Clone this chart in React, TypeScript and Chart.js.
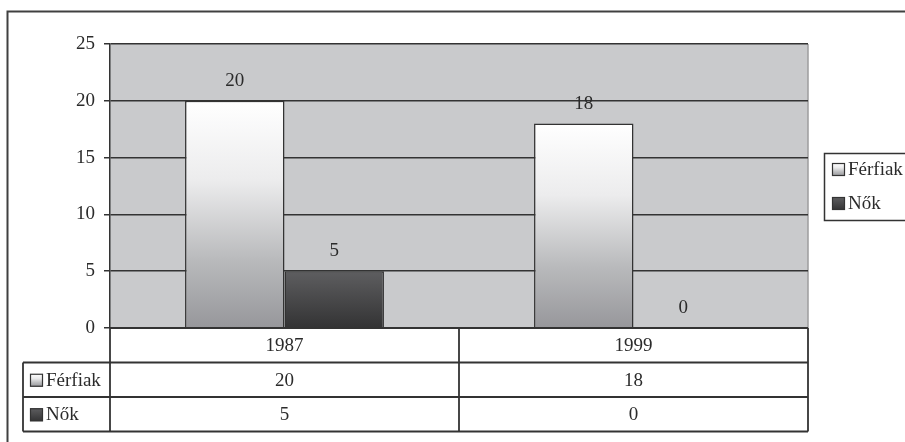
import React, { useEffect, useRef } from "react";
import { Chart, registerables } from "chart.js";

Chart.register(...registerables);

// ---- data ----
const categories = ["1987", "1999"];
const seriesNames = ["Férfiak", "Nők"];
const ferfiak = [20, 18];
const nok = [5, 0];
const yTicks = [0, 5, 10, 15, 20, 25];

// ---- styles ----
const FONT = '"Liberation Serif", "Times New Roman", serif';
const FONT_SIZE = 19;
const TEXT = "#2b2b2b";
const LINE = "#333333";
const PLOT_BG = "#c9cacc";
const FERFI_STOPS: [number, string][] = [
  [0, "#ffffff"],
  [0.35, "#ececed"],
  [0.7, "#b9babc"],
  [1, "#97979b"],
];
const NOK_STOPS: [number, string][] = [
  [0, "#5e5e60"],
  [1, "#333334"],
];
const seriesStops = [FERFI_STOPS, NOK_STOPS];

function makeGradient(ctx: CanvasRenderingContext2D, top: number, bottom: number, stops: [number, string][]) {
  const g = ctx.createLinearGradient(0, top, 0, bottom);
  stops.forEach(([o, c]) => g.addColorStop(o, c));
  return g;
}

function barFill(stops: [number, string][]) {
  return (c: any) => {
    const chart = c.chart;
    const y = chart.scales && chart.scales.y;
    if (!y || !chart.chartArea || c.type !== "data") return stops[stops.length - 1][1];
    const v = c.parsed && typeof c.parsed.y === "number" ? c.parsed.y : c.raw;
    const top = y.getPixelForValue(v);
    const base = y.getPixelForValue(0);
    if (!(base - top > 1)) return stops[stops.length - 1][1];
    return makeGradient(chart.ctx, top, base, stops);
  };
}

function drawSwatch(ctx: CanvasRenderingContext2D, x: number, y: number, w: number, h: number, stops: [number, string][]) {
  ctx.save();
  ctx.fillStyle = makeGradient(ctx, y, y + h, stops);
  ctx.fillRect(x, y, w, h);
  ctx.strokeStyle = LINE;
  ctx.lineWidth = 1.2;
  ctx.strokeRect(x + 0.5, y + 0.5, w - 1, h - 1);
  ctx.restore();
}

const decorPlugin = {
  id: "decor",
  beforeDraw(chart: any) {
    const { ctx, chartArea } = chart;
    ctx.save();
    ctx.fillStyle = "#ffffff";
    ctx.fillRect(0, 0, chart.width, chart.height);
    // outer frame (open on right/bottom, cropped)
    ctx.strokeStyle = "#404040";
    ctx.lineWidth = 2;
    ctx.strokeRect(7.5, 11.5, 1200, 1200);
    // plot background
    ctx.fillStyle = PLOT_BG;
    ctx.fillRect(chartArea.left, chartArea.top, chartArea.right - chartArea.left, chartArea.bottom - chartArea.top);
    ctx.strokeStyle = "#9c9c9e";
    ctx.lineWidth = 1.5;
    ctx.beginPath();
    ctx.moveTo(chartArea.right, chartArea.top);
    ctx.lineTo(chartArea.right, chartArea.bottom);
    ctx.stroke();
    ctx.restore();
  },
  afterDatasetsDraw(chart: any) {
    const { ctx, chartArea } = chart;
    const xScale = chart.scales.x;
    ctx.save();
    ctx.font = `${FONT_SIZE}px ${FONT}`;
    ctx.fillStyle = TEXT;
    ctx.textAlign = "center";
    ctx.textBaseline = "middle";

    // value labels above bars
    chart.data.datasets.forEach((ds: any, di: number) => {
      const meta = chart.getDatasetMeta(di);
      meta.data.forEach((bar: any, i: number) => {
        ctx.fillText(String(ds.data[i]), bar.x, bar.y - 20);
      });
    });

    // data table
    const rowH = 34.5;
    const tableLeft = 23;
    const top = chartArea.bottom;
    const rows = [top, top + rowH, top + rowH * 2, top + rowH * 3];
    const n = categories.length;
    const centers = categories.map((_, i) => xScale.getPixelForValue(i));
    const bounds: number[] = [chartArea.left];
    for (let i = 0; i < n - 1; i++) bounds.push((centers[i] + centers[i + 1]) / 2);
    bounds.push(chartArea.right);

    ctx.strokeStyle = LINE;
    ctx.lineWidth = 1.8;
    ctx.beginPath();
    // horizontal lines
    ctx.moveTo(chartArea.left, rows[0]);
    ctx.lineTo(chartArea.right, rows[0]);
    for (let r = 1; r < rows.length; r++) {
      ctx.moveTo(tableLeft, rows[r]);
      ctx.lineTo(chartArea.right, rows[r]);
    }
    // vertical lines
    ctx.moveTo(tableLeft, rows[1]);
    ctx.lineTo(tableLeft, rows[3]);
    bounds.forEach((b) => {
      ctx.moveTo(b, rows[0]);
      ctx.lineTo(b, rows[3]);
    });
    ctx.stroke();

    // header row
    categories.forEach((c, i) => {
      ctx.fillText(c, (bounds[i] + bounds[i + 1]) / 2, rows[0] + rowH / 2 + 1);
    });
    // series rows
    chart.data.datasets.forEach((ds: any, di: number) => {
      const yMid = rows[di + 1] + rowH / 2 + 1;
      ds.data.forEach((v: number, i: number) => {
        ctx.textAlign = "center";
        ctx.fillText(String(v), (bounds[i] + bounds[i + 1]) / 2, yMid);
      });
      drawSwatch(ctx, tableLeft + 7, yMid - 7, 13, 13, seriesStops[di]);
      ctx.textAlign = "left";
      ctx.fillStyle = TEXT;
      ctx.fillText(ds.label, tableLeft + 23, yMid);
    });

    // legend (right)
    const lx = 824;
    const ly = 153;
    ctx.strokeStyle = LINE;
    ctx.lineWidth = 1.5;
    ctx.strokeRect(lx + 0.5, ly + 0.5, 120, 67);
    chart.data.datasets.forEach((ds: any, di: number) => {
      const yMid = ly + 17 + di * 34;
      drawSwatch(ctx, lx + 8, yMid - 7, 13, 13, seriesStops[di]);
      ctx.fillStyle = TEXT;
      ctx.textAlign = "left";
      ctx.fillText(ds.label, lx + 24, yMid);
    });
    ctx.restore();
  },
};

export default function App() {
  const ref = useRef<HTMLCanvasElement | null>(null);

  useEffect(() => {
    document.body.style.margin = "0";
    document.body.style.overflow = "hidden";
    const canvas = ref.current;
    if (!canvas) return;
    const chart = new Chart(canvas, {
      type: "bar",
      data: {
        labels: categories,
        datasets: [
          {
            label: seriesNames[0],
            data: ferfiak,
            backgroundColor: barFill(FERFI_STOPS),
            borderColor: LINE,
            borderWidth: 1.5,
            categoryPercentage: 0.57,
            barPercentage: 1,
          },
          {
            label: seriesNames[1],
            data: nok,
            backgroundColor: barFill(NOK_STOPS),
            borderColor: LINE,
            borderWidth: 1.5,
            categoryPercentage: 0.57,
            barPercentage: 1,
          },
        ],
      },
      options: {
        responsive: false,
        animation: false,
        devicePixelRatio: 1,
        layout: { padding: { left: 0, top: 44, right: 97, bottom: 114 } },
        plugins: {
          legend: { display: false },
          tooltip: { enabled: false },
        },
        scales: {
          x: { display: false },
          y: {
            min: 0,
            max: 25,
            afterBuildTicks: (scale: any) => {
              scale.ticks = yTicks.map((v) => ({ value: v }));
            },
            afterFit: (scale: any) => {
              scale.width = 110;
            },
            grid: {
              color: LINE,
              lineWidth: 1.5,
              drawTicks: true,
              tickLength: 6,
            },
            border: { display: true, color: LINE, width: 1.5 },
            ticks: {
              color: TEXT,
              padding: 9,
              font: { family: FONT, size: FONT_SIZE },
            },
          },
        },
      },
      plugins: [decorPlugin],
    });
    return () => chart.destroy();
  }, []);

  return (
    <div style={{ width: 905, height: 442 }}>
      <canvas ref={ref} width={905} height={442} style={{ display: "block" }} />
    </div>
  );
}
